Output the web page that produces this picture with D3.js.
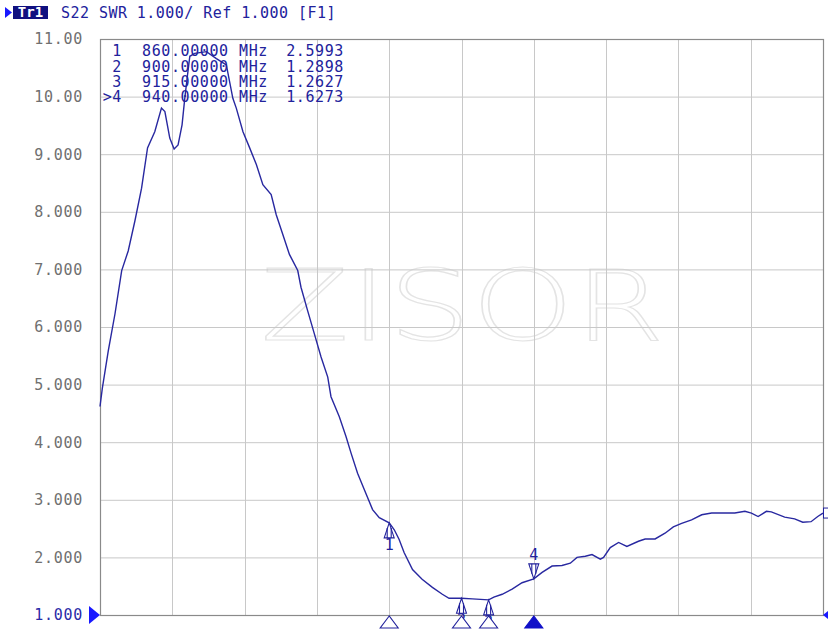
<!DOCTYPE html>
<html><head><meta charset="utf-8">
<script src="https://cdn.jsdelivr.net/npm/d3@7"></script>
<style>
html,body{margin:0;padding:0;background:#fff;}
svg{display:block;}
</style></head>
<body>
<svg id="c" width="828" height="629"></svg>
<script>
// ---- data ----
const freqMHz = [700,701.3,704.6,708.3,712.0,715.6,719.3,723.0,726.3,730.3,734.0,735.9,738.6,741.0,743.2,745.4,746.9,748.4,749.7,752.4,758.9,764.4,769.9,771.7,773.5,775.4,779.1,782.8,786.5,790.1,794.7,797.5,801.1,804.8,809.4,811.2,814.9,818.6,822.3,826.0,827.8,832.4,836.1,838.9,842.5,846.2,850.8,854.5,860,862.8,865.5,868.3,872.9,878.2,883.9,889.4,893.1,900,906.0,915,917.9,922.5,928.0,933.5,940,944.6,950.1,955.6,960.2,963.9,968.5,972.2,976.8,978.6,982.3,986.9,991.5,997.9,1001.6,1007.1,1012.6,1017.2,1021.8,1027.3,1032.9,1038.4,1045.7,1051.2,1056.8,1060.4,1064.1,1068.7,1071.4,1078.8,1084.3,1088.8,1093.4,1097.1,1100];
const swr = [4.62,4.94,5.59,6.23,6.98,7.32,7.84,8.41,9.11,9.39,9.80,9.74,9.28,9.09,9.16,9.51,9.97,10.37,10.70,10.75,10.78,10.66,10.55,10.26,9.97,9.80,9.39,9.11,8.82,8.47,8.30,7.95,7.61,7.26,6.98,6.69,6.28,5.88,5.48,5.13,4.79,4.44,4.10,3.81,3.46,3.18,2.83,2.69,2.5993,2.48,2.31,2.08,1.79,1.62,1.48,1.36,1.29,1.2898,1.28,1.2627,1.31,1.36,1.45,1.56,1.6273,1.74,1.85,1.86,1.90,2.00,2.02,2.05,1.97,2.00,2.17,2.26,2.19,2.28,2.32,2.32,2.42,2.53,2.59,2.65,2.74,2.77,2.77,2.77,2.80,2.77,2.71,2.80,2.79,2.70,2.67,2.61,2.62,2.71,2.77];

const markerIds = ["1","2","3","4"];
const markerFreqs = [860,900,915,940];
const markerValues = [2.5993,1.2898,1.2627,1.6273];
const markerFreqText = ["860.00000","900.00000","915.00000","940.00000"];
const markerValText = ["2.5993","1.2898","1.2627","1.6273"];
const activeMarker = "4";

const yTickValues = [11,10,9,8,7,6,5,4,3,2,1];
const yTickLabels = ["11.00","10.00","9.000","8.000","7.000","6.000","5.000","4.000","3.000","2.000","1.000"];
const xGridFreqs = [700,740,780,820,860,900,940,980,1020,1060,1100];

const headerTrace = "Tr1";
const headerText = "S22 SWR 1.000/ Ref 1.000 [F1]";
const watermark = "ZISOR";

// ---- layout ----
const L = 100, R = 823, T = 39, B = 615;
const svg = d3.select("#c");
const x = d3.scaleLinear().domain([700,1100]).range([L,R]);
const y = d3.scaleLinear().domain([1,11]).range([B,T]);
const mono = "'DejaVu Sans Mono', 'Liberation Mono', monospace";
const blue = "#22229c";

// watermark
svg.append("text").text(watermark)
  .attr("x", 260).attr("y", 340)
  .attr("textLength", 405).attr("lengthAdjust","spacingAndGlyphs")
  .attr("font-family","'DejaVu Sans', sans-serif").attr("font-weight", 200)
  .attr("font-size", 98)
  .attr("fill","none").attr("stroke","#e4e4e4").attr("stroke-width",1.2);

// grid
const g = svg.append("g");
g.selectAll("line.h").data(yTickValues).join("line")
  .attr("x1",L).attr("x2",R).attr("y1",d=>y(d)+0.5).attr("y2",d=>y(d)+0.5)
  .attr("stroke","#c8c8c8").attr("stroke-width",1);
g.selectAll("line.v").data(xGridFreqs).join("line")
  .attr("y1",T).attr("y2",B).attr("x1",d=>Math.round(x(d))+0.5).attr("x2",d=>Math.round(x(d))+0.5)
  .attr("stroke","#c8c8c8").attr("stroke-width",1);
// frame
svg.append("rect").attr("x",L+0.5).attr("y",T+0.5).attr("width",R-L).attr("height",B-T)
  .attr("fill","none").attr("stroke","#8a8a8a").attr("stroke-width",1.2);

// y axis labels via d3 axis
const yAxis = d3.axisLeft(y).tickValues(yTickValues)
  .tickFormat((d,i)=>yTickLabels[i]).tickSize(0).tickPadding(0);
const ya = svg.append("g").attr("transform",`translate(${83},0)`).call(yAxis);
ya.select(".domain").remove();
ya.selectAll("text").attr("font-family",mono).attr("font-size",15)
  .attr("letter-spacing","0.7px")
  .attr("fill",(d)=> d===1 ? "#2a2aa8" : "#707070");

// reference triangle on left
svg.append("path").attr("d",`M${L-11},${y(1)-9} L${L},${y(1)} L${L-11},${y(1)+9} Z`).attr("fill","#1818ff");
// right edge small markers
svg.append("path").attr("d",`M${R+5},${y(1)-4} L${R},${y(1)} L${R+5},${y(1)+4} Z`).attr("fill","#1818ff");
svg.append("rect").attr("x",R+0.5).attr("y",y(swr[swr.length-1])-5).attr("width",5).attr("height",10)
  .attr("fill","#fff").attr("stroke",blue).attr("stroke-width",1);

// trace
const data = freqMHz.map((f,i)=>({f, v: swr[i]}));
svg.append("path").datum(data)
  .attr("d", d3.line().x(d=>x(d.f)).y(d=>y(d.v)))
  .attr("fill","none").attr("stroke","#2828a0").attr("stroke-width",1.4);

// markers on trace
markerIds.forEach((id,i)=>{
  const mx = x(markerFreqs[i]), my = y(markerValues[i]);
  const active = id===activeMarker;
  const dir = active ? -1 : 1;
  const h = 15, w = 5;
  const gg = svg.append("g").attr("stroke",blue).attr("fill","#fff").attr("stroke-width",1.1);
  gg.append("path").attr("d",`M${mx},${my} L${mx-w},${my+dir*h} L${mx+w},${my+dir*h} Z`);
  gg.append("line").attr("x1",mx-2).attr("x2",mx-2).attr("y1",my+dir*5).attr("y2",my+dir*h);
  gg.append("line").attr("x1",mx+2).attr("x2",mx+2).attr("y1",my+dir*5).attr("y2",my+dir*h);
  svg.append("text").text(id)
    .attr("x",mx).attr("y", active ? my-h-4 : my+h+12)
    .attr("text-anchor","middle").attr("font-family",mono).attr("font-size",15)
    .attr("fill",blue);
  svg.append("path").attr("d",`M${mx},${B+1} L${mx-9},${B+13} L${mx+9},${B+13} Z`)
    .attr("fill", active ? "#1010c8" : "#fff").attr("stroke", active ? "#1010c8" : blue).attr("stroke-width",1.1);
});

// marker table
const rowY = [51,66.3,81.6,97];
markerIds.forEach((id,i)=>{
  const t = (txt, xx, anchor) => svg.append("text").text(txt)
    .attr("x",xx).attr("y",rowY[i]).attr("dy","0.35em").attr("text-anchor",anchor)
    .attr("font-family",mono).attr("font-size",15).attr("letter-spacing","0.6px").attr("fill",blue);
  t((id===activeMarker? ">" : "") + id, 122, "end");
  t(markerFreqText[i], 142, "start");
  t("MHz", 239, "start");
  t(markerValText[i], 344, "end");
});

// header
svg.append("path").attr("d","M5,7 L12,12.5 L5,18 Z").attr("fill","#1818ff");
svg.append("rect").attr("x",13).attr("y",6).attr("width",35).attr("height",13).attr("fill","#101080");
svg.append("text").text(headerTrace).attr("x",30.5).attr("y",12.5).attr("dy","0.35em")
  .attr("text-anchor","middle").attr("font-family",mono).attr("font-size",14).attr("font-weight","bold").attr("fill","#fff");
svg.append("text").text(headerText).attr("x",61).attr("y",13).attr("dy","0.35em")
  .attr("font-family",mono).attr("font-size",15).attr("letter-spacing","0.45px").attr("fill",blue);
</script>
</body></html>
